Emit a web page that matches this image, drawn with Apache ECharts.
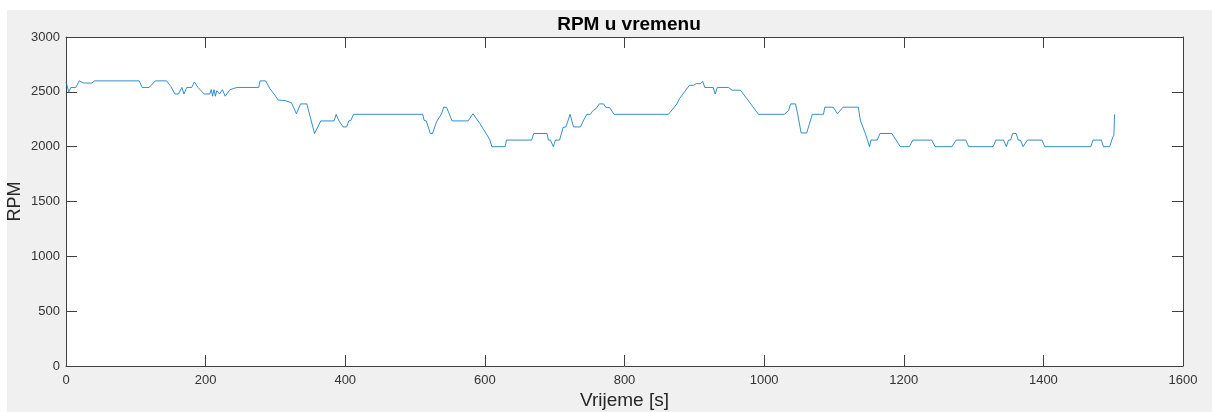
<!DOCTYPE html>
<html>
<head>
<meta charset="utf-8">
<title>RPM u vremenu</title>
<script src="https://cdn.jsdelivr.net/npm/echarts@6/dist/echarts.min.js"></script>
<style>
    html, body { margin: 0; padding: 0; background: #fff; }
    #wrap { position: relative; width: 1212px; height: 412px; overflow: hidden; }
    #bg { position: absolute; left: 7px; top: 10px; right: 0; bottom: 0; background: #f0f0f0; }
    #chart { position: absolute; left: 0; top: 0; width: 1212px; height: 412px; }
</style>
</head>
<body>
<div id="wrap">
    <div id="bg"></div>
    <div id="chart"></div>
</div>
<script>
// vrijeme [s] i RPM ocitani sa slike
var timeS = [
    0, 4, 7, 14, 19, 25, 37, 41, 105, 109, 119, 128, 144, 150, 156, 161, 166, 169, 173, 180,
    184, 189, 198, 206, 208, 210, 212, 214, 216, 220, 224, 228, 235, 240, 245, 276, 278, 286, 292, 298,
    304, 314, 323, 330, 336, 345, 356, 358, 365, 384, 387, 391, 397, 402, 405, 408, 412, 511, 513, 516,
    522, 525, 531, 538, 541, 545, 553, 576, 583, 593, 607, 610, 629, 631, 667, 670, 689, 691, 694, 698,
    701, 707, 712, 716, 719, 722, 727, 737, 741, 746, 751, 755, 759, 764, 770, 773, 779, 785, 863, 875,
    879, 893, 899, 903, 909, 912, 915, 927, 930, 933, 949, 954, 966, 975, 982, 992, 1029, 1035, 1038, 1045,
    1048, 1053, 1061, 1069, 1085, 1087, 1099, 1105, 1113, 1135, 1138, 1145, 1151, 1153, 1162, 1166, 1183, 1189, 1195, 1208,
    1213, 1240, 1245, 1269, 1275, 1289, 1293, 1328, 1332, 1343, 1347, 1350, 1353, 1356, 1361, 1364, 1367, 1371, 1373, 1377,
    1398, 1402, 1468, 1471, 1483, 1486, 1495, 1499, 1501, 1502
];
var rpm = [
    2590, 2500, 2540, 2540, 2600, 2580, 2580, 2600, 2600, 2540, 2540, 2600, 2600, 2550, 2480, 2480, 2540, 2480, 2540, 2540,
    2590, 2540, 2480, 2480, 2520, 2460, 2520, 2460, 2510, 2480, 2520, 2460, 2520, 2530, 2540, 2540, 2600, 2600, 2530, 2480,
    2425, 2420, 2400, 2300, 2390, 2390, 2120, 2120, 2235, 2235, 2295, 2235, 2180, 2180, 2235, 2240, 2295, 2295, 2240, 2235,
    2120, 2120, 2230, 2300, 2360, 2360, 2235, 2235, 2300, 2210, 2065, 2000, 2000, 2060, 2060, 2120, 2120, 2060, 2060, 2000,
    2060, 2060, 2175, 2180, 2235, 2295, 2180, 2180, 2235, 2295, 2295, 2330, 2345, 2390, 2390, 2360, 2355, 2295, 2295, 2390,
    2440, 2560, 2560, 2575, 2575, 2595, 2540, 2540, 2480, 2540, 2540, 2515, 2515, 2440, 2380, 2295, 2295, 2330, 2390, 2390,
    2300, 2125, 2125, 2295, 2295, 2360, 2360, 2300, 2360, 2360, 2235, 2120, 2000, 2060, 2060, 2120, 2120, 2060, 2000, 2000,
    2060, 2060, 2000, 2000, 2060, 2060, 2000, 2000, 2060, 2060, 2000, 2060, 2060, 2120, 2120, 2060, 2060, 2000, 2000, 2060,
    2060, 2000, 2000, 2060, 2060, 2000, 2000, 2080, 2105, 2295
];
var xTicks = [0, 200, 400, 600, 800, 1000, 1200, 1400, 1600];
var yTicks = [0, 500, 1000, 1500, 2000, 2500, 3000];

var myChart = echarts.init(document.getElementById('chart'));

var fontName = 'Liberation Sans, Arial, Helvetica, sans-serif';
var axisColor = '#404040';

function boxAxis(isX, pos, withLabels, ticks) {
    return {
        type: 'value',
        position: pos,
        min: ticks[0],
        max: ticks[ticks.length - 1],
        interval: ticks[1] - ticks[0],
        axisLine: { show: true, onZero: false, lineStyle: { color: axisColor, width: 1 } },
        axisTick: { show: true, inside: true, length: 11, lineStyle: { color: axisColor, width: 1 } },
        axisLabel: {
            show: withLabels,
            color: '#333',
            fontSize: 13,
            fontFamily: fontName,
            margin: isX ? 8 : 6,
            showMinLabel: true,
            showMaxLabel: true,
            formatter: function (v) { return String(v); }
        },
        splitLine: { show: false }
    };
}

var bottomX = boxAxis(true, 'bottom', true, xTicks);
bottomX.name = 'Vrijeme [s]';
bottomX.nameLocation = 'middle';
bottomX.nameGap = 25;
bottomX.nameMoveOverlap = false;
bottomX.nameTextStyle = { color: '#262626', fontSize: 19, fontFamily: fontName };

var leftY = boxAxis(false, 'left', true, yTicks);
leftY.name = 'RPM';
leftY.nameLocation = 'middle';
leftY.nameGap = 42;
leftY.nameMoveOverlap = false;
leftY.nameTextStyle = { color: '#262626', fontSize: 18, fontFamily: fontName };

var option = {
    backgroundColor: 'transparent',
    animation: false,
    title: {
        text: 'RPM u vremenu',
        left: 624,
        top: 10,
        textAlign: 'center',
        textStyle: { color: '#000', fontSize: 19, fontWeight: 'bold', fontFamily: fontName }
    },
    grid: {
        left: 66,
        top: 37,
        right: 29,
        bottom: 46,
        show: true,
        backgroundColor: '#fff',
        borderWidth: 0,
        containLabel: false,
        outerBoundsMode: 'none'
    },
    xAxis: [bottomX, boxAxis(true, 'top', false, xTicks)],
    yAxis: [leftY, boxAxis(false, 'right', false, yTicks)],
    series: [{
        name: 'RPM',
        type: 'line',
        xAxisIndex: 0,
        yAxisIndex: 0,
        showSymbol: false,
        symbol: 'none',
        lineStyle: { color: '#0072BD', width: 0.8 },
        data: timeS.map(function (t, i) { return [t, rpm[i]]; })
    }]
};

myChart.setOption(option);
</script>
</body>
</html>
